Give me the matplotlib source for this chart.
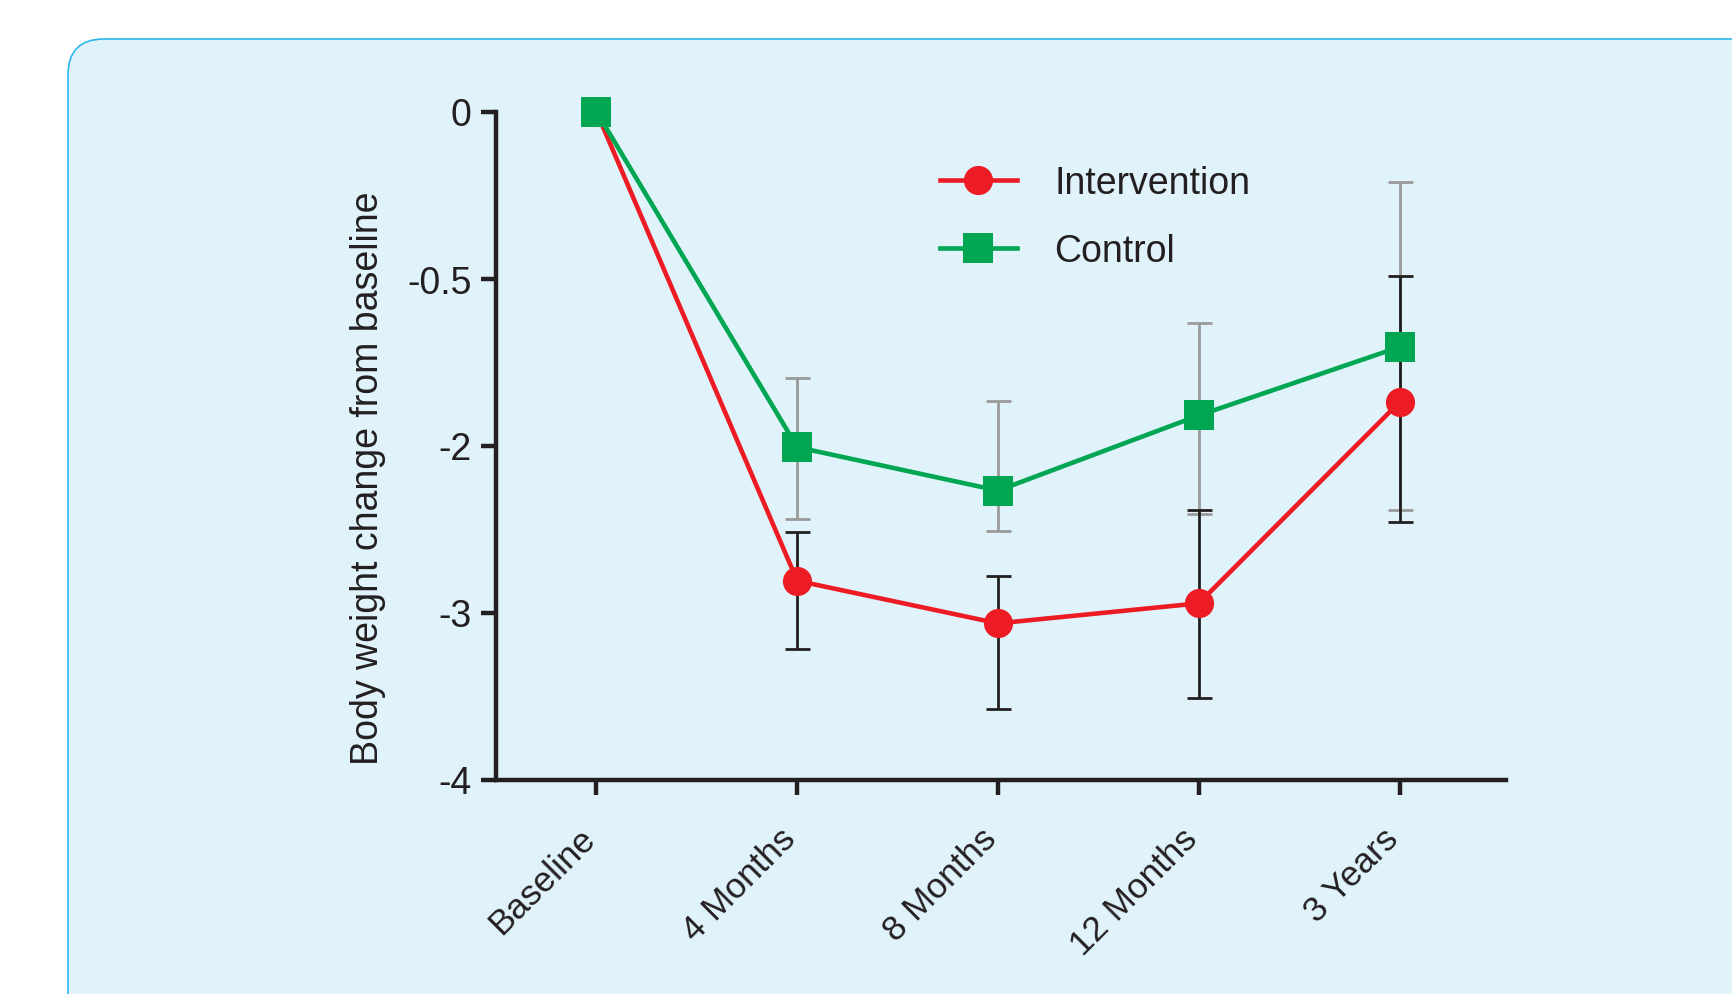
import numpy as np
import matplotlib
matplotlib.use('Agg')
import matplotlib.pyplot as plt
from matplotlib.patches import FancyBboxPatch
from matplotlib.lines import Line2D

# ---------------- data ----------------
categories = ['Baseline', '4 Months', '8 Months', '12 Months', '3 Years']
y_tick_values = [0, -1, -2, -3, -4]
y_tick_labels = ['0', '-0.5', '-2', '-3', '-4']

intervention = [0.0, -2.81, -3.065, -2.945, -1.74]
intervention_low = [np.nan, -3.22, -3.58, -3.51, -2.46]
intervention_high = [np.nan, -2.52, -2.78, -2.385, -0.985]

control = [0.0, -2.01, -2.27, -1.82, -1.41]
control_low = [np.nan, -2.44, -2.51, -2.41, -2.385]
control_high = [np.nan, -1.595, -1.735, -1.265, -0.425]

series_names = ['Intervention', 'Control']

# ---------------- style ----------------
RED = '#ED1C24'
GREEN = '#00A651'
GRAY = '#9A9A9A'
INK = '#231F20'
PANEL = '#E0F3FB'
BORDER = '#2DB8EC'
FS = 27
FS_X = 25.3

plt.rcParams['font.family'] = ['Liberation Sans', 'DejaVu Sans']

W, H = 1733, 995
fig = plt.figure(figsize=(W / 100, H / 100), dpi=100)
fig.patch.set_facecolor('white')

# background rounded panel
bg = fig.add_axes([0, 0, 1, 1], zorder=-10)
bg.set_xlim(0, W)
bg.set_ylim(H, 0)
bg.axis('off')
bg.add_patch(FancyBboxPatch((68, 40), W + 200, H + 200,
                            boxstyle='round,pad=0,rounding_size=36',
                            fc=PANEL, ec=BORDER, lw=1.2))

# main axes (pixel geometry)
ax_l, ax_r, ax_t, ax_b = 496, 1506, 112.5, 780.5
ax = fig.add_axes([ax_l / W, 1 - ax_b / H, (ax_r - ax_l) / W, (ax_b - ax_t) / H])
ax.set_facecolor('none')

x = np.arange(len(categories))


def draw_err(vals, lows, highs, color):
    v = np.asarray(vals)[1:]
    lo = np.asarray(lows)[1:]
    hi = np.asarray(highs)[1:]
    ax.errorbar(x[1:], v, yerr=[v - lo, hi - v], fmt='none', ecolor=color,
                elinewidth=2.0, capsize=9, capthick=2.0, zorder=2, clip_on=False)


draw_err(control, control_low, control_high, GRAY)
draw_err(intervention, intervention_low, intervention_high, INK)

ax.plot(x, intervention, color=RED, lw=3.3, marker='o', ms=21, mew=0,
        zorder=4, clip_on=False)
ax.plot(x, control, color=GREEN, lw=3.3, marker='s', ms=21, mew=0,
        zorder=5, clip_on=False)

ax.set_xlim(-0.5, 4.53)
ax.set_ylim(-4, 0)
ax.set_yticks(y_tick_values)
ax.set_yticklabels(y_tick_labels)
ax.set_xticks(x)
ax.set_xticklabels(categories, rotation=45, ha='right', va='baseline',
                   rotation_mode='anchor', fontsize=FS_X)

for s in ['top', 'right']:
    ax.spines[s].set_visible(False)
for s in ['left', 'bottom']:
    ax.spines[s].set_linewidth(3.2)
    ax.spines[s].set_color(INK)
    ax.spines[s].set_capstyle('projecting')

ax.tick_params(axis='both', direction='out', length=10.5, width=3.2,
               color=INK, labelcolor=INK)
ax.tick_params(axis='y', pad=7, labelsize=FS)
ax.tick_params(axis='x', pad=33, labelsize=FS_X)

ax.set_ylabel('Body weight change from baseline', fontsize=FS, color=INK)
ax.yaxis.set_label_coords(-0.109, 0.452)

handles = [
    Line2D([], [], color=RED, lw=3.3, marker='o', ms=21, mew=0),
    Line2D([], [], color=GREEN, lw=3.3, marker='s', ms=21, mew=0),
]
leg = ax.legend(handles, series_names, loc='center left',
                bbox_to_anchor=(0.4396, 0.842), frameon=False, fontsize=FS,
                handlelength=2.05, handletextpad=1.0, labelspacing=0.85,
                borderpad=0, borderaxespad=0)
for t in leg.get_texts():
    t.set_color(INK)

fig.savefig('out.png', dpi=100)
